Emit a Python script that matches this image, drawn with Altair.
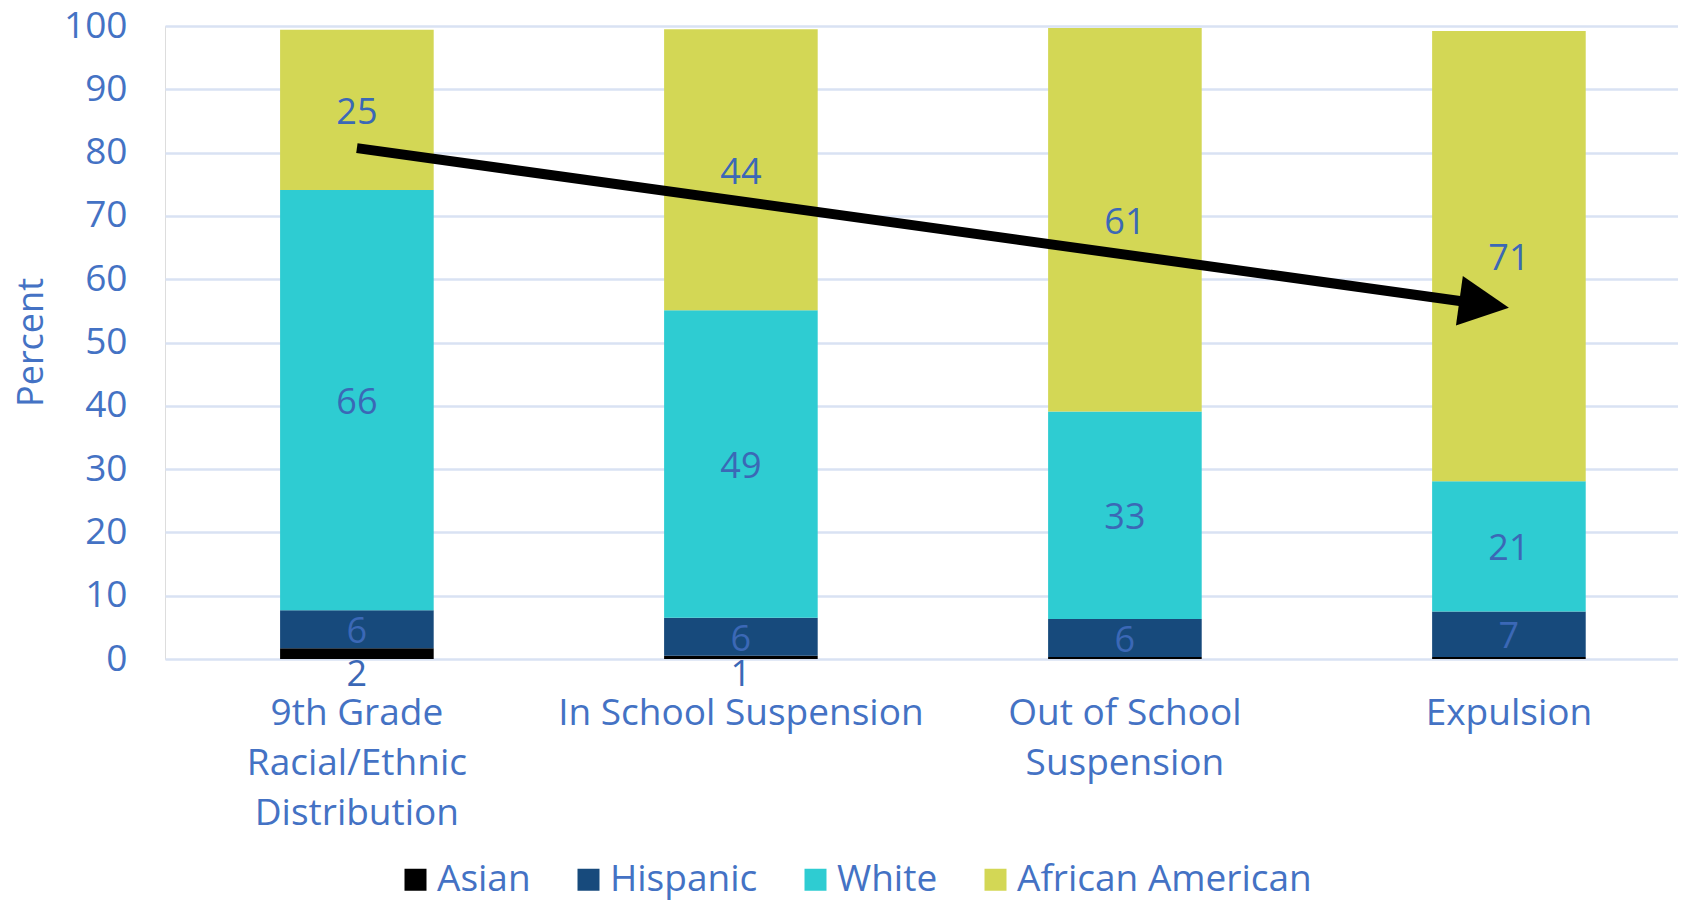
import altair as alt
import pandas as pd

# ---- data ----
categories = [
    "9th Grade|Racial/Ethnic|Distribution",
    "In School Suspension",
    "Out of School|Suspension",
    "Expulsion",
]
races = ["Asian", "Hispanic", "White", "African American"]
asian = [1.7, 0.5, 0.3, 0.3]
hispanic = [6.0, 6.0, 6.0, 7.2]
white = [66.4, 48.6, 32.8, 20.6]
african_american = [25.3, 44.4, 60.6, 71.1]
race_colors = ["#000000", "#174A7C", "#2ECCD2", "#D3D755"]

arrow_from = (categories[0], 80.7)
arrow_to = (categories[3], 55.5)
arrow_angle = 7.9

series = {"Asian": asian, "Hispanic": hispanic, "White": white,
          "African American": african_american}
rows = []
for r_i, race in enumerate(races):
    for c_i, cat in enumerate(categories):
        rows.append({"category": cat, "race": race, "order": r_i,
                     "value": series[race][c_i]})
df = pd.DataFrame(rows)

arrow_df = pd.DataFrame([{"x": arrow_from[0], "y": arrow_from[1],
                          "x2": arrow_to[0], "y2": arrow_to[1]}])
head_df = pd.DataFrame([{"x": arrow_to[0], "y": arrow_to[1]}])

FONT = "Open Sans"
AXIS_BLUE = "#4472C4"
LABEL_BLUE = "#3B68B6"

xscale = alt.Scale(domain=categories, paddingInner=0.6, paddingOuter=0.27, align=0.555)
yscale = alt.Scale(domain=[0, 100], nice=False)

x_enc = alt.X("category:N", scale=xscale, sort=categories, title=None,
              axis=alt.Axis(labelExpr="split(datum.label, '|')", labelAngle=0,
                            labelFontSize=37, labelColor=AXIS_BLUE, labelFont=FONT,
                            labelLineHeight=50, labelPadding=36, labelLimit=0,
                            ticks=False, domain=False, grid=False))

base = alt.Chart(df).transform_stack(
    stack="value", groupby=["category"], as_=["y0", "y1"],
    sort=[alt.SortField("order", order="ascending")]
).transform_calculate(mid="(datum.y0 + datum.y1) / 2",
                      lbl="format(datum.value, '.0f')")

bars = base.mark_bar().encode(
    x=x_enc,
    y=alt.Y("y0:Q", scale=yscale, title="Percent",
            axis=alt.Axis(values=list(range(0, 101, 10)), labelFontSize=37,
                          labelColor=AXIS_BLUE, labelFont=FONT, labelPadding=38,
                          ticks=False, domain=False, gridColor="#D9E2F3",
                          gridWidth=2.5, titleFontSize=36, titleFont=FONT,
                          titleColor=AXIS_BLUE, titleFontWeight="normal",
                          titleX=-134, titleY=316, titleAngle=-90,
                          titleAlign="center", titleBaseline="middle")),
    y2="y1:Q",
    color=alt.Color("race:N", scale=alt.Scale(domain=races, range=race_colors),
                    legend=alt.Legend(title=None, orient="none", direction="horizontal",
                                      legendX=232, legendY=835, columns=4,
                                      symbolType="square", symbolSize=484,
                                      symbolStrokeWidth=0, labelFontSize=37,
                                      labelFont=FONT, labelColor=AXIS_BLUE,
                                      labelOffset=3, columnPadding=39,
                                      labelLimit=0)),
    order=alt.Order("order:Q"),
)

seg_labels = base.transform_filter("datum.race != 'Asian'").mark_text(
    fontSize=36, font=FONT, color=LABEL_BLUE, baseline="middle", align="center", dy=3
).encode(x=alt.X("category:N", scale=xscale, sort=categories),
         y=alt.Y("mid:Q", scale=yscale), text="lbl:N")

asian_labels = base.transform_filter(
    "datum.race == 'Asian' && datum.value >= 0.5").mark_text(
    fontSize=36, font=FONT, color=LABEL_BLUE, baseline="middle", align="center", dy=16
).encode(x=alt.X("category:N", scale=xscale, sort=categories),
         y=alt.Y("y0:Q", scale=yscale), text="lbl:N")

shaft = alt.Chart(arrow_df).mark_rule(
    color="black", strokeWidth=10, strokeCap="butt", x2Offset=-15, y2Offset=-2
).encode(x=alt.X("x:N", scale=xscale, sort=categories),
         y=alt.Y("y:Q", scale=yscale),
         x2="x2:N", y2="y2:Q")

head = alt.Chart(head_df).mark_point(
    shape="M0,0L-2,-1L-2,1Z", size=2500, filled=True, opacity=1,
    color="black", strokeWidth=0, angle=arrow_angle
).encode(x=alt.X("x:N", scale=xscale, sort=categories),
         y=alt.Y("y:Q", scale=yscale))

chart = alt.layer(bars, seg_labels, asian_labels, shaft, head).properties(
    width=1513, height=633,
    autosize=alt.AutoSizeParams(type="none"),
    padding={"left": 157, "top": 18, "right": 0, "bottom": 241},
).configure_view(stroke=None).configure(font=FONT)

chart.save("out.html", embed_options={"renderer": "svg", "actions": False})
